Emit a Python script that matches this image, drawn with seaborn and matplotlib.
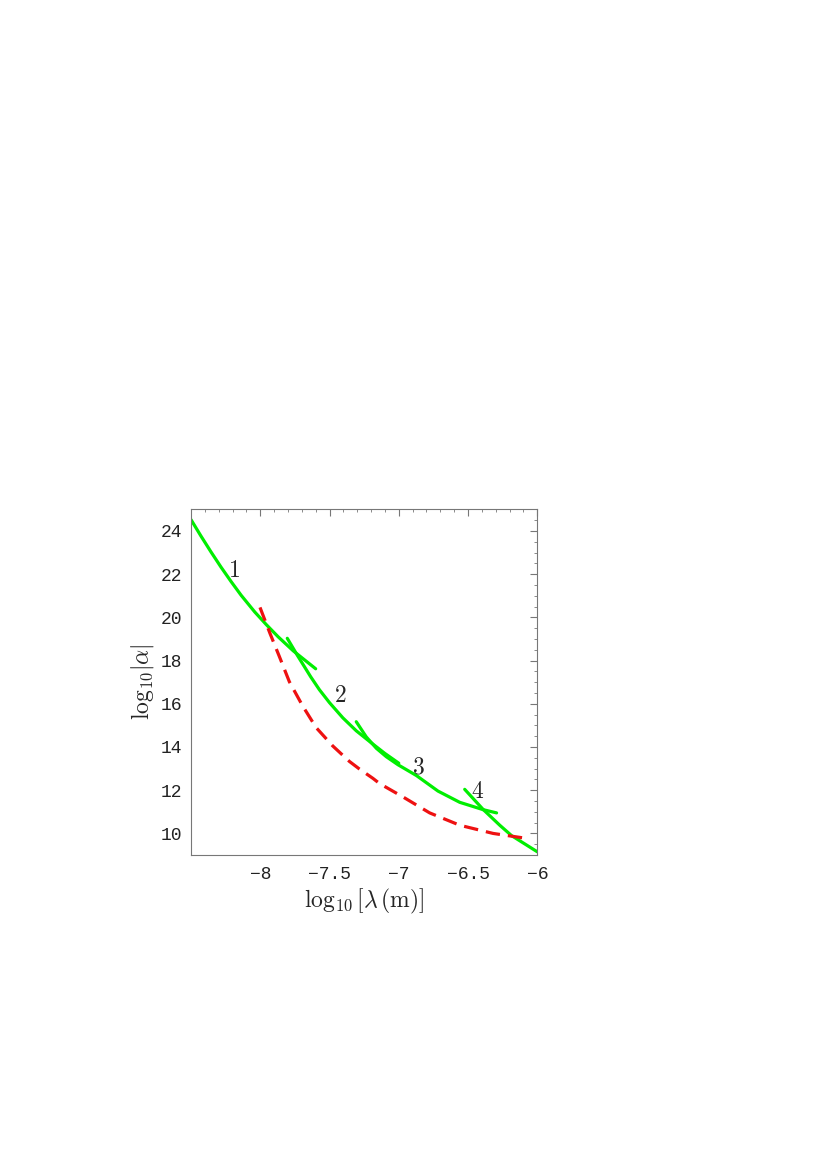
import numpy as np
import pandas as pd
import seaborn as sns
import matplotlib.pyplot as plt
from matplotlib.ticker import MultipleLocator

# curve segments (x = log10 lambda, y = log10 |alpha|)
x1 = [-8.5, -8.428, -8.355, -8.283, -8.21, -8.138, -8.04, -7.956, -7.871, -7.762, -7.60]
y1 = [24.52, 23.76, 23.02, 22.32, 21.65, 21.02, 20.25, 19.66, 19.10, 18.45, 17.62]

x2 = [-7.805, -7.733, -7.636, -7.573, -7.50, -7.404, -7.307, -7.2, -7.1, -7.0]
y2 = [19.03, 18.25, 17.25, 16.65, 16.05, 15.35, 14.75, 14.20, 13.70, 13.25]

x3 = [-7.307, -7.235, -7.162, -7.09, -7.006, -6.873, -6.717, -6.56, -6.391, -6.294]
y3 = [15.17, 14.47, 13.94, 13.55, 13.18, 12.68, 11.96, 11.44, 11.10, 10.95]

x4 = [-6.524, -6.391, -6.271, -6.186, -6.0]
y4 = [12.04, 11.11, 10.38, 9.90, 9.15]

x_red = [-8.002, -7.93, -7.863, -7.79, -7.694, -7.597, -7.477, -7.356, -7.284,
         -7.187, -7.139, -6.97, -6.777, -6.56, -6.319, -6.077]
y_red = [20.46, 19.26, 18.20, 17.02, 15.90, 14.90, 14.05, 13.33, 12.98,
         12.55, 12.31, 11.69, 10.95, 10.38, 10.00, 9.77]

labels = ["1", "2", "3", "4"]
label_x = [-8.19, -7.42, -6.855, -6.428]
label_y = [22.2, 16.4, 13.08, 11.97]

sns.set_theme(style="white")
plt.rcParams["mathtext.fontset"] = "cm"

fig = plt.figure(figsize=(8.28, 11.7), dpi=100)
ax = fig.add_axes([0.2307, 0.2692, 0.4182, 0.2955])

green = "#00ee00"
for xs, ys in [(x1, y1), (x2, y2), (x3, y3), (x4, y4)]:
    df = pd.DataFrame({"x": xs, "y": ys})
    sns.lineplot(data=df, x="x", y="y", sort=False, color=green, lw=2.3, ax=ax)

df_red = pd.DataFrame({"x": x_red, "y": y_red})
sns.lineplot(data=df_red, x="x", y="y", sort=False, color="#ee1111", lw=2.3,
             ax=ax, linestyle=(0, (4.5, 2.5)))

for t, lx, ly in zip(labels, label_x, label_y):
    ax.text(lx, ly, "$" + t + "$", fontsize=17, ha="center", va="center")

ax.set_xlim(-8.5, -6)
ax.set_ylim(9, 25)
ax.set_xticks([-8, -7.5, -7, -6.5, -6])
ax.set_xticklabels(["\u22128", "\u22127.5", "\u22127", "\u22126.5", "\u22126"])
ax.set_yticks([10, 12, 14, 16, 18, 20, 22, 24])
ax.xaxis.set_minor_locator(MultipleLocator(0.1))
ax.yaxis.set_minor_locator(MultipleLocator(0.5))
ax.tick_params(which="both", direction="in", top=True, right=True, colors="#777777",
               labelcolor="#222222")
ax.tick_params(which="major", length=5, width=0.8)
ax.tick_params(which="minor", length=2.5, width=0.6)
for lab in ax.get_xticklabels() + ax.get_yticklabels():
    lab.set_fontfamily(["Liberation Mono", "DejaVu Sans Mono"])
    lab.set_fontsize(13)
ax.tick_params(axis="x", pad=8)
ax.tick_params(axis="y", pad=6)
for sp in ax.spines.values():
    sp.set_color("#777777")
    sp.set_linewidth(0.8)

ax.set_xlabel(r"$\log_{10}[\lambda\,(\mathrm{m})]$", fontsize=17, labelpad=3)
ax.set_ylabel(r"$\log_{10}\!|\alpha|$", fontsize=17, labelpad=4)

fig.savefig("out.png", dpi=100)
